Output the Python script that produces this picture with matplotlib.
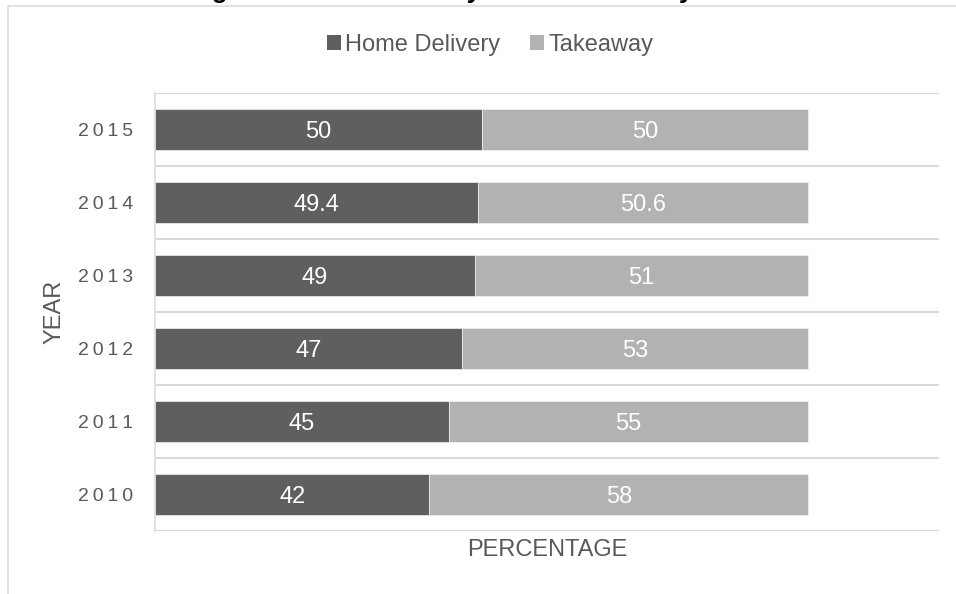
import matplotlib
matplotlib.use("Agg")
import matplotlib.pyplot as plt
from matplotlib.patches import Rectangle, Patch
import numpy as np

plt.rcParams['font.family'] = ['Liberation Sans', 'DejaVu Sans']

years = ["2010", "2011", "2012", "2013", "2014", "2015"]
home_delivery = [42, 45, 47, 49, 49.4, 50]
takeaway = [58, 55, 53, 51, 50.6, 50]
series_names = ["Home Delivery", "Takeaway"]
title = "Figure 6: Home delivery versus takeaway in UK"

W, H = 956, 594
DPI = 100
fig = plt.figure(figsize=(W / DPI, H / DPI), dpi=DPI)

def px_x(x):
    return x / W

def px_y(y):
    return 1 - y / H

# chart frame (extends past the right and bottom edges)
fig.patches.append(Rectangle((px_x(8), px_y(620)), px_x(980), (620 - 6) / H,
                             transform=fig.transFigure, fill=False,
                             edgecolor="#d9d9d9", linewidth=1.1))

# title, sitting mostly above the visible canvas
fig.text(0.5, px_y(-2), title, ha="center", va="baseline",
         fontsize=18.5, fontweight="bold", color="black")

left, right, top, bottom = 155, 939, 93, 531
ax = fig.add_axes([px_x(left), px_y(bottom), (right - left) / W, (bottom - top) / H])

dark = "#5f5f5f"
light = "#b2b2b2"
grid_c = "#d9d9d9"
text_c = "#595959"

y = np.arange(len(years))
bh = 0.55
ax.barh(y, home_delivery, height=bh, color=dark, edgecolor="#f2f2f2", linewidth=0.5, zorder=3)
ax.barh(y, takeaway, left=home_delivery, height=bh, color=light, edgecolor="#f2f2f2", linewidth=0.5, zorder=3)

for yi, hd, tk in zip(y, home_delivery, takeaway):
    ax.text(hd / 2, yi, f"{hd:g}", ha="center", va="center_baseline", color="white", fontsize=17, zorder=4)
    ax.text(hd + tk / 2, yi, f"{tk:g}", ha="center", va="center_baseline", color="white", fontsize=17, zorder=4)

ax.set_xlim(0, 120)
ax.set_ylim(-0.5, len(years) - 0.5)

# horizontal gridlines between categories
for b in np.arange(-0.5, len(years), 1.0):
    ax.axhline(b, color=grid_c, linewidth=1.5, zorder=1)

for s in ["top", "right", "bottom"]:
    ax.spines[s].set_visible(False)
ax.spines["left"].set_color(grid_c)
ax.spines["left"].set_linewidth(1.1)

ax.set_xticks([])
ax.set_yticks(y)
ax.set_yticklabels(["\u2009".join(t) for t in years], fontsize=14, color=text_c)
ax.tick_params(axis="y", length=0, pad=16)

ax.set_xlabel("PERCENTAGE", fontsize=17, color=text_c, va="center")
ax.xaxis.set_label_coords(0.5, (bottom - 549.5) / (bottom - top))
ax.set_ylabel("YEAR", fontsize=17, color=text_c, va="center")
ax.yaxis.set_label_coords((54 - left) / (right - left), 0.5)

handles = [Patch(facecolor=dark), Patch(facecolor=light)]
leg = fig.legend(handles, series_names, loc="center", bbox_to_anchor=(px_x(490), px_y(45)),
                 ncol=2, frameon=False, fontsize=17, handlelength=0.6, handleheight=0.6,
                 handletextpad=0.17, columnspacing=1.27, borderpad=0, labelcolor=text_c)

fig.savefig("out.png", dpi=DPI)
